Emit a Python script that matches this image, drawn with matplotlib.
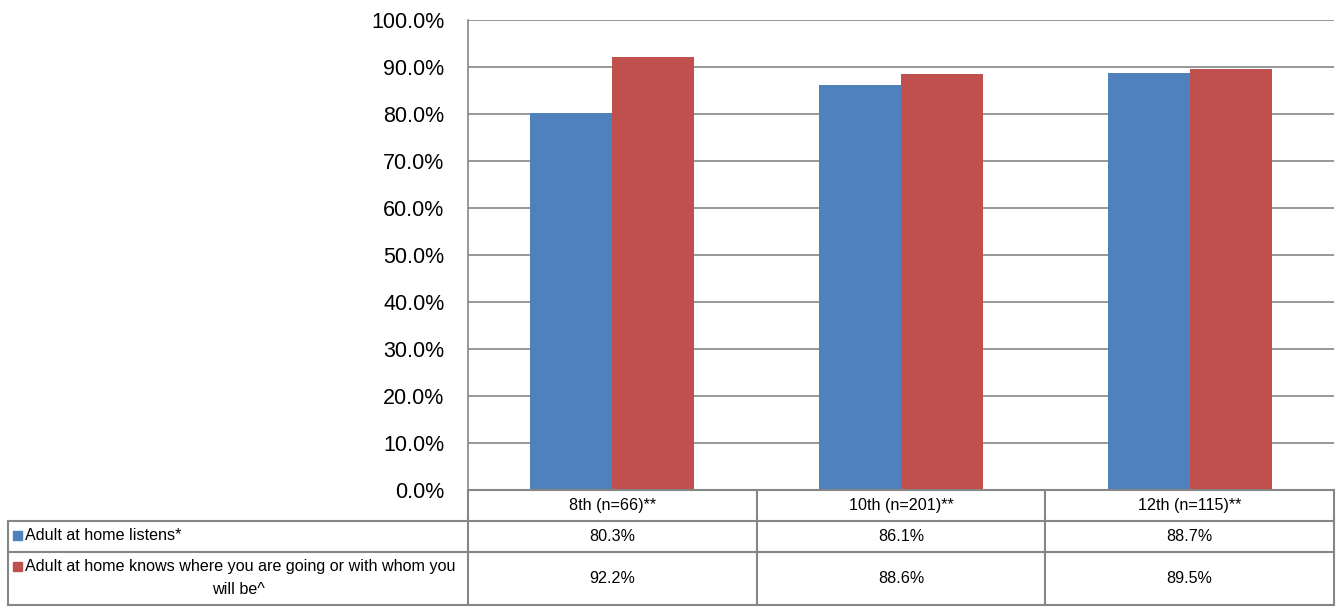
import matplotlib.pyplot as plt
from matplotlib import font_manager
import numpy as np

categories = ['8th (n=66)**', '10th (n=201)**', '12th (n=115)**']
series_names = ['Adult at home listens*',
                'Adult at home knows where you are going or with whom you',
                'will be^']
listens = [80.3, 86.1, 88.7]
knows = [92.2, 88.6, 89.5]
values = [listens, knows]
colors = ['#4F81BD', '#C0504D']

names = {f.name for f in font_manager.fontManager.ttflist}
font = 'Liberation Sans Narrow' if 'Liberation Sans Narrow' in names else 'Liberation Sans'
plt.rcParams['font.family'] = [font, 'DejaVu Sans']

W, H = 1338, 607
fig = plt.figure(figsize=(W / 100, H / 100), dpi=100)

# plot area in pixels
px0, px1, py0, py1 = 468, 1334, 20, 490
ax = fig.add_axes([px0 / W, 1 - py1 / H, (px1 - px0) / W, (py1 - py0) / H])

x = np.arange(len(categories))
bw = 0.284
ax.bar(x - bw / 2, listens, bw, color=colors[0], zorder=3)
ax.bar(x + bw / 2, knows, bw, color=colors[1], zorder=3)

ax.set_xlim(-0.5, len(categories) - 0.5)
ax.set_ylim(0, 100)
ax.set_yticks(np.arange(0, 101, 10))
ax.set_yticklabels(['%.1f%%' % v for v in np.arange(0, 101, 10)], fontsize=15.5)
ax.tick_params(axis='y', length=0, pad=17)
ax.set_xticks([])
ax.grid(axis='y', color='#868686', linewidth=1.2, zorder=0)
for s in ['top', 'right', 'bottom']:
    ax.spines[s].set_visible(False)
ax.spines['left'].set_color('#868686')
ax.spines['left'].set_linewidth(1.2)

# data table below the plot, in pixel coordinates
tab = fig.add_axes([0, 0, 1, 1])
tab.set_xlim(0, W)
tab.set_ylim(H, 0)
tab.axis('off')

col_edges = np.linspace(px0, px1, len(categories) + 1)
row_edges = [490, 521, 552, 605]
left = 8
lc = '#868686'
lw = 1.5

for xe in col_edges:
    tab.plot([xe, xe], [row_edges[0], row_edges[-1]], color=lc, lw=lw)
for ye in row_edges:
    tab.plot([px0, px1], [ye, ye], color=lc, lw=lw)
for ye in row_edges[1:]:
    tab.plot([left, px0], [ye, ye], color=lc, lw=lw)
tab.plot([left, left], [row_edges[1], row_edges[-1]], color=lc, lw=lw)

fs = 11.6
for i, cat in enumerate(categories):
    cx = (col_edges[i] + col_edges[i + 1]) / 2
    tab.text(cx, (row_edges[0] + row_edges[1]) / 2, cat, ha='center', va='center', fontsize=fs)
    for r in range(2):
        cy = (row_edges[r + 1] + row_edges[r + 2]) / 2
        tab.text(cx, cy, '%.1f%%' % values[r][i], ha='center', va='center', fontsize=fs)

# legend keys and series names
tab.add_patch(plt.Rectangle((13, 531), 9, 9, color=colors[0]))
tab.text(25, 536, series_names[0], ha='left', va='center', fontsize=fs)
tab.add_patch(plt.Rectangle((13, 562), 9, 9, color=colors[1]))
tab.text(25, 567, series_names[1], ha='left', va='center', fontsize=fs)
tab.text((left + px0) / 2, 589, series_names[2], ha='center', va='center', fontsize=fs)

fig.savefig('out.png', dpi=100)
